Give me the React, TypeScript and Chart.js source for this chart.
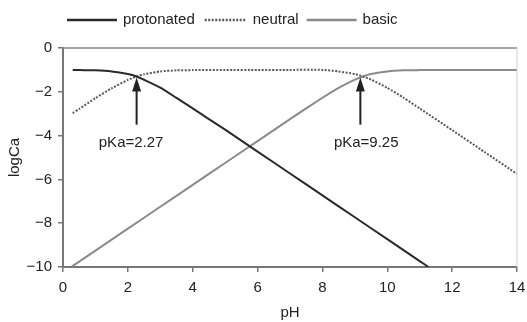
import React, { useEffect, useRef } from "react";
import { Chart, registerables } from "chart.js";

Chart.register(...registerables);

const seriesNames = ["protonated", "neutral", "basic"];

const pHProtonated = [0.3, 0.5, 1, 1.5, 2, 2.27, 2.5, 3, 3.5, 4, 5, 6, 7, 8, 9, 10, 11, 11.27];
const logProtonated = [-1.0, -1.01, -1.02, -1.07, -1.19, -1.3, -1.45, -1.81, -2.28, -2.76, -3.73, -4.73, -5.73, -6.73, -7.73, -8.73, -9.73, -10.0];

const pHNeutral = [0.3, 0.5, 1, 1.5, 2, 2.27, 2.5, 3, 3.5, 4, 5, 6, 7, 8, 8.5, 9, 9.25, 9.5, 10, 10.5, 11, 12, 13, 14];
const logNeutral = [-2.97, -2.78, -2.29, -1.84, -1.46, -1.3, -1.2, -1.07, -1.02, -1.01, -1.0, -1.0, -1.0, -1.0, -1.07, -1.19, -1.3, -1.44, -1.82, -2.27, -2.76, -3.75, -4.75, -5.75];

const pHBasic = [0.27, 1, 2, 3, 4, 5, 6, 7, 8, 8.5, 9, 9.25, 9.5, 10, 10.5, 11, 12, 13, 14];
const logBasic = [-9.98, -9.25, -8.25, -7.25, -6.25, -5.25, -4.25, -3.25, -2.27, -1.82, -1.44, -1.3, -1.19, -1.07, -1.02, -1.01, -1.0, -1.0, -1.0];

const xTickValues = [0, 2, 4, 6, 8, 10, 12, 14];
const yTickValues = [-10, -8, -6, -4, -2, 0];

const pKaLabels = ["pKa=2.27", "pKa=9.25"];
const arrowPH = [2.27, 9.17];
const labelPH = [2.1, 9.35];
const arrowTipLog = -1.35;
const arrowTailLog = -3.5;
const labelLog = -4.35;

const FONT = "'Liberation Sans', Arial, Helvetica, sans-serif";
const TEXT = "#222";

const toPts = (xs: number[], ys: number[]) => xs.map((x, i) => ({ x, y: ys[i] }));

const styles = [
  { color: "#2a2a2a", dash: [] as number[], width: 2 },
  { color: "#5a5a5a", dash: [2, 1.5], width: 2 },
  { color: "#8a8a8a", dash: [] as number[], width: 2 },
];

const frameAndAnnotations = {
  id: "frameAndAnnotations",
  afterDatasetsDraw(chart: any) {
    const { ctx, chartArea, scales } = chart;
    const xs = scales.x;
    const ys = scales.y;
    ctx.save();
    ctx.strokeStyle = "#888";
    ctx.lineWidth = 1.5;
    ctx.beginPath();
    ctx.moveTo(chartArea.left, chartArea.top);
    ctx.lineTo(chartArea.right, chartArea.top);
    ctx.stroke();
    ctx.strokeStyle = "#d0d0d0";
    ctx.lineWidth = 1;
    ctx.beginPath();
    ctx.moveTo(chartArea.right, chartArea.top);
    ctx.lineTo(chartArea.right, chartArea.bottom);
    ctx.stroke();

    ctx.fillStyle = TEXT;
    ctx.strokeStyle = TEXT;
    ctx.font = `15px ${FONT}`;
    ctx.textAlign = "center";
    ctx.textBaseline = "middle";
    for (let i = 0; i < arrowPH.length; i++) {
      const ax = xs.getPixelForValue(arrowPH[i]);
      const tip = ys.getPixelForValue(arrowTipLog);
      const tail = ys.getPixelForValue(arrowTailLog);
      ctx.lineWidth = 2;
      ctx.beginPath();
      ctx.moveTo(ax, tail);
      ctx.lineTo(ax, tip + 10);
      ctx.stroke();
      ctx.beginPath();
      ctx.moveTo(ax, tip);
      ctx.lineTo(ax - 4.5, tip + 14);
      ctx.lineTo(ax + 4.5, tip + 14);
      ctx.closePath();
      ctx.fill();
      ctx.fillText(pKaLabels[i], xs.getPixelForValue(labelPH[i]), ys.getPixelForValue(labelLog));
    }

    ctx.textAlign = "left";
    let x = 67;
    const y = 20;
    const lineLens = [50, 42, 50];
    const gapsAfter = [10, 8, 0];
    for (let i = 0; i < seriesNames.length; i++) {
      const s = styles[i];
      ctx.strokeStyle = s.color;
      ctx.lineWidth = s.width + 0.5;
      ctx.setLineDash(s.dash);
      ctx.beginPath();
      ctx.moveTo(x, y);
      ctx.lineTo(x + lineLens[i], y);
      ctx.stroke();
      ctx.setLineDash([]);
      x += lineLens[i] + 6;
      ctx.fillStyle = TEXT;
      ctx.fillText(seriesNames[i], x, y);
      x += ctx.measureText(seriesNames[i]).width + gapsAfter[i];
    }
    ctx.restore();
  },
};

export default function App() {
  const ref = useRef<HTMLCanvasElement | null>(null);
  useEffect(() => {
    if (!ref.current) return;
    const datasets = [
      toPts(pHProtonated, logProtonated),
      toPts(pHNeutral, logNeutral),
      toPts(pHBasic, logBasic),
    ].map((data, i) => ({
      label: seriesNames[i],
      data,
      showLine: true,
      borderColor: styles[i].color,
      borderWidth: styles[i].width,
      borderDash: styles[i].dash,
      pointRadius: 0,
      fill: false,
      tension: 0.2,
    }));
    const chart = new Chart(ref.current, {
      type: "scatter",
      data: { datasets },
      options: {
        animation: false,
        responsive: false,
        maintainAspectRatio: false,
        layout: { padding: { top: 48, right: 10, left: 0, bottom: 0 } },
        plugins: { legend: { display: false }, tooltip: { enabled: false } },
        scales: {
          x: {
            type: "linear",
            min: 0,
            max: 14,
            afterBuildTicks: (s: any) => {
              s.ticks = xTickValues.map((v) => ({ value: v }));
            },
            afterFit: (s: any) => {
              s.height = 55;
              s.paddingRight = 0;
              s.paddingLeft = 0;
            },
            ticks: {
              color: TEXT,
              font: { family: FONT, size: 15 },
              padding: 7,
              callback: (v: any) => String(v),
            },
            grid: { display: true, drawOnChartArea: false, drawTicks: true, tickLength: 5, color: "#777", lineWidth: 1.5 },
            border: { display: true, color: "#777", width: 2 },
            title: { display: true, text: "pH", color: TEXT, font: { family: FONT, size: 15 }, padding: { top: 6, bottom: 0 } },
          },
          y: {
            type: "linear",
            min: -10,
            max: 0,
            afterBuildTicks: (s: any) => {
              s.ticks = yTickValues.map((v) => ({ value: v }));
            },
            afterFit: (s: any) => {
              s.width = 63;
              s.paddingTop = 0;
              s.paddingBottom = 0;
            },
            ticks: {
              color: TEXT,
              font: { family: FONT, size: 15 },
              padding: 6,
              callback: (v: any) => String(v).replace("-", "\u2212"),
            },
            grid: { display: true, drawOnChartArea: false, drawTicks: true, tickLength: 5, color: "#777", lineWidth: 1.5 },
            border: { display: true, color: "#777", width: 2 },
            title: { display: true, text: "logCa", color: TEXT, font: { family: FONT, size: 15 }, padding: { top: 6, bottom: 0 } },
          },
        },
      },
      plugins: [frameAndAnnotations],
    } as any);
    return () => chart.destroy();
  }, []);
  return (
    <div style={{ position: "fixed", left: 0, top: 0, width: 527, height: 322, background: "#fff" }}>
      <canvas ref={ref} width={527} height={322} style={{ display: "block", width: 527, height: 322 }} />
    </div>
  );
}
